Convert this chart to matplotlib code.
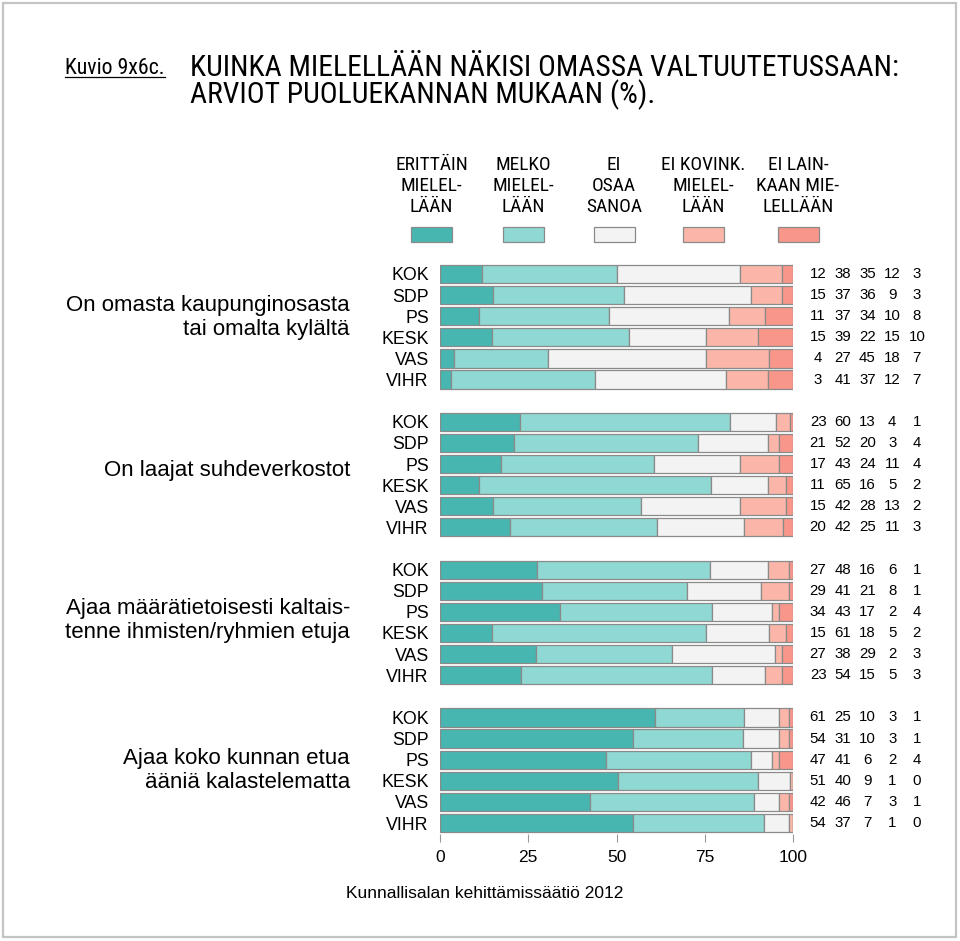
import matplotlib
matplotlib.use("Agg")
import matplotlib.pyplot as plt
from matplotlib import font_manager
from matplotlib.font_manager import FontProperties
from matplotlib.patches import Rectangle
from matplotlib.lines import Line2D
import numpy as np

# ---------------- data ----------------
groups = ["On omasta kaupunginosasta\ntai omalta kylältä",
          "On laajat suhdeverkostot",
          "Ajaa määrätietoisesti kaltais-\ntenne ihmisten/ryhmien etuja",
          "Ajaa koko kunnan etua\nääniä kalastelematta"]
parties = ["KOK", "SDP", "PS", "KESK", "VAS", "VIHR"]
legend_labels = ["ERITTÄIN\nMIELEL-\nLÄÄN", "MELKO\nMIELEL-\nLÄÄN", "EI\nOSAA\nSANOA",
                 "EI KOVINK.\nMIELEL-\nLÄÄN", "EI LAIN-\nKAAN MIE-\nLELLÄÄN"]
erittain = [12, 15, 11, 15, 4, 3, 23, 21, 17, 11, 15, 20, 27, 29, 34, 15, 27, 23, 61, 54, 47, 51, 42, 54]
melko = [38, 37, 37, 39, 27, 41, 60, 52, 43, 65, 42, 42, 48, 41, 43, 61, 38, 54, 25, 31, 41, 40, 46, 37]
ei_osaa = [35, 36, 34, 22, 45, 37, 13, 20, 24, 16, 28, 25, 16, 21, 17, 18, 29, 15, 10, 10, 6, 9, 7, 7]
ei_kovink = [12, 9, 10, 15, 18, 12, 4, 3, 11, 5, 13, 11, 6, 8, 2, 5, 2, 5, 3, 3, 2, 1, 3, 1]
ei_lainkaan = [3, 3, 8, 10, 7, 7, 1, 4, 4, 2, 2, 3, 1, 1, 4, 2, 3, 3, 1, 1, 4, 0, 1, 0]
xticks = [0, 25, 50, 75, 100]

title_lines = ["KUINKA MIELELLÄÄN NÄKISI OMASSA VALTUUTETUSSAAN:",
               "ARVIOT PUOLUEKANNAN MUKAAN (%)."]
kuvio = "Kuvio 9x6c."
source = "Kunnallisalan kehittämissäätiö 2012"

colors = ["#47b6b1", "#8fd8d3", "#f3f3f3", "#fbb6a9", "#f79689"]

# ---------------- fonts ----------------
ttf = font_manager.fontManager.ttflist
avail = {f.name for f in ttf}
SANS = "Liberation Sans" if "Liberation Sans" in avail else "DejaVu Sans"
plt.rcParams["font.family"] = [SANS, "DejaVu Sans"]


def find_narrow():
    pref = ["Liberation Sans Narrow", "Roboto Condensed", "Open Sans Condensed",
            "Noto Sans Condensed", "DejaVu Sans Condensed"]
    normal_w = lambda f: f.weight in (400, "normal", "regular", "book", "Regular")
    normal_s = lambda f: f.style == "normal"
    for name in pref:
        for f in ttf:
            if f.name == name and normal_w(f) and normal_s(f):
                return f.fname
    for f in ttf:
        st = f.stretch
        cond = st in ("condensed", "semi-condensed", "extra-condensed", "ultra-condensed") or \
            (isinstance(st, (int, float)) and st < 500) or "Narrow" in f.name or "Condensed" in f.name
        if cond and normal_w(f) and normal_s(f) and "Mono" not in f.name:
            return f.fname
    return None


narrow_path = find_narrow()


def narrow_fp(size):
    if narrow_path:
        return FontProperties(fname=narrow_path, size=size)
    return FontProperties(family=SANS, size=size)


W, H = 960, 941
fig = plt.figure(figsize=(W / 100, H / 100), dpi=100)
renderer = fig.canvas.get_renderer()


def fx(px):
    return px / W


def fy(py):
    return 1 - py / H


def fit_size(text, target_px):
    t = fig.text(0, 0, text, fontproperties=narrow_fp(20))
    w = t.get_window_extent(renderer).width
    t.remove()
    return 20 * target_px / w


# axes
ax_left, ax_right = 440, 793
ax_top, ax_bot = 263.4, 833.6
ax = fig.add_axes([fx(ax_left), fy(ax_bot), fx(ax_right - ax_left), (ax_bot - ax_top) / H])

series = np.array([erittain, melko, ei_osaa, ei_kovink, ei_lainkaan], dtype=float)
totals = series.sum(axis=0)
norm = series / totals * 100

ypos = []
for g in range(len(groups)):
    for r in range(len(parties)):
        ypos.append(g * 7 + r)
ypos = np.array(ypos)

left = np.zeros(len(ypos))
for k in range(5):
    ax.barh(ypos, norm[k], left=left, height=0.86, color=colors[k],
            edgecolor="#8a8a8a", linewidth=0.9)
    left += norm[k]

ax.set_xlim(0, 100)
ax.set_ylim(ypos.max() + 0.5, -0.5)
for s in ax.spines.values():
    s.set_visible(False)
ax.set_xticks(xticks)
ax.set_xticklabels([str(t) for t in xticks], fontsize=12.5)
ax.tick_params(axis="x", length=6, width=0.8, color="#999999", pad=6)
ax.set_yticks(ypos)
ax.set_yticklabels(parties * len(groups), fontsize=12.8)
ax.tick_params(axis="y", length=0, pad=8)

# numbers on the right
num_cols = [107.1, 114.1, 121.1, 128.1, 135.1]
for i, y in enumerate(ypos):
    for k in range(5):
        ax.text(num_cols[k], y, str(int(series[k, i])), ha="center", va="center",
                fontsize=10.8, clip_on=False)

# group labels
label_offsets = [-0.45, -0.2, -0.08, 0.02]
for g, lab in enumerate(groups):
    yc = g * 7 + 2.5 + label_offsets[g]
    ax.text(-25.5, yc, lab, ha="right", va="center", fontsize=16, linespacing=1.2,
            clip_on=False)

# legend
leg_centers = [431.5, 523.5, 614, 703.5, 798]
leg_size = fit_size("ERITTÄIN", 73)
leg_rows = [165, 186, 207]
for k in range(5):
    for j, line in enumerate(legend_labels[k].split("\n")):
        fig.text(fx(leg_centers[k]), fy(leg_rows[j]), line, ha="center", va="center",
                 fontproperties=narrow_fp(leg_size))
    fig.patches.append(Rectangle((fx(leg_centers[k] - 20.5), fy(242)), fx(41), 15 / H,
                                 transform=fig.transFigure, facecolor=colors[k],
                                 edgecolor="#8a8a8a", linewidth=0.9))

# title
title_size = fit_size(title_lines[0], 708)
for j, line in enumerate(title_lines):
    fig.text(fx(190), fy(68 + 27 * j), line, ha="left", va="center",
             fontproperties=narrow_fp(title_size))
kuvio_size = fit_size(kuvio, 100)
kt = fig.text(fx(65), fy(68), kuvio, ha="left", va="center", fontproperties=narrow_fp(kuvio_size))
bb = kt.get_window_extent(renderer)
fig.lines.append(Line2D([bb.x0 / W, bb.x1 / W], [(bb.y0 + 1.5) / H, (bb.y0 + 1.5) / H],
                        transform=fig.transFigure, color="black", linewidth=0.9))

# source
fig.text(fx(346), fy(893), source, ha="left", va="center", fontsize=12.5)

# border
fig.patches.append(Rectangle((fx(3), fy(937)), fx(953), 934 / H, transform=fig.transFigure,
                             fill=False, edgecolor="#c4c4c4", linewidth=1.6))

fig.savefig("out.png", dpi=100)
